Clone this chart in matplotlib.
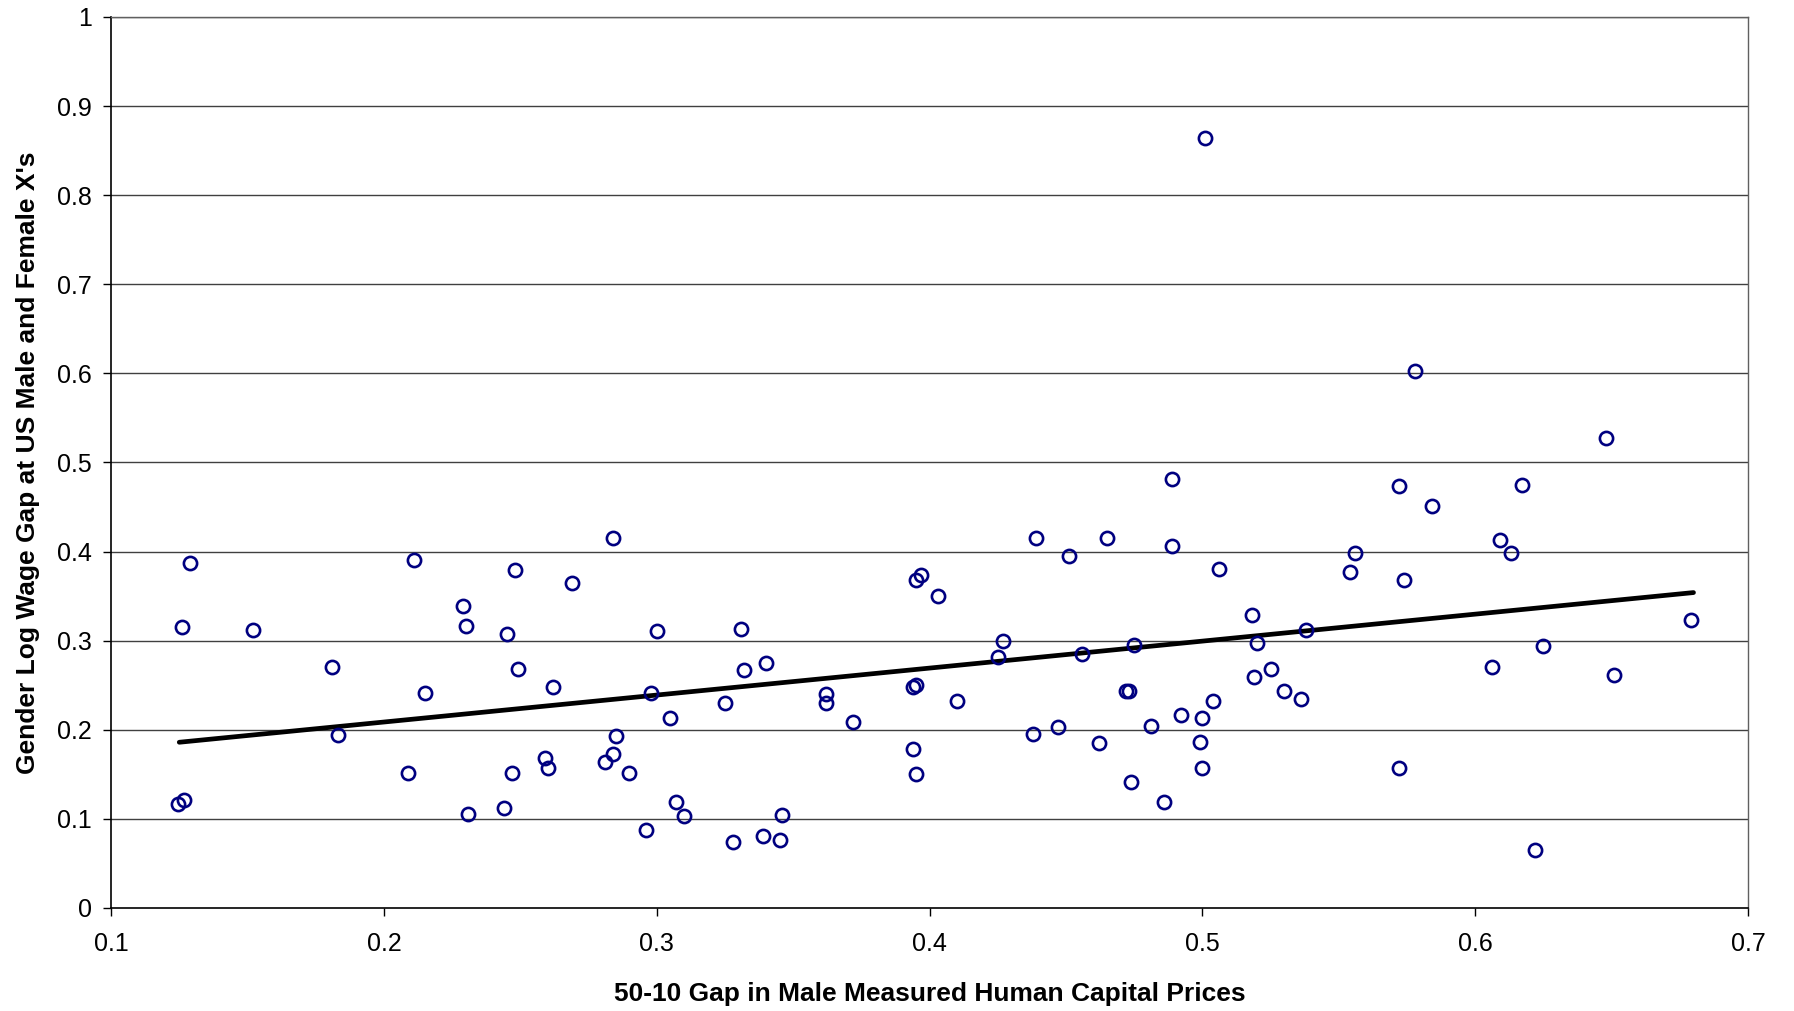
import matplotlib.pyplot as plt
import numpy as np

plt.rcParams['font.family'] = ['Liberation Sans', 'DejaVu Sans']

# scatter points
price_gap = [0.1247, 0.1268, 0.126, 0.129, 0.152, 0.181, 0.183, 0.209, 0.211, 0.215,
             0.229, 0.230, 0.231, 0.244, 0.245, 0.248, 0.247, 0.249, 0.259, 0.260,
             0.262, 0.269, 0.281, 0.284, 0.284, 0.285, 0.290, 0.296, 0.298, 0.300,
             0.305, 0.307, 0.310, 0.325, 0.328, 0.331, 0.332, 0.339, 0.340, 0.345,
             0.346, 0.362, 0.362, 0.372, 0.394, 0.395, 0.394, 0.395, 0.395, 0.397,
             0.403, 0.410, 0.425, 0.427, 0.438, 0.439, 0.447, 0.451, 0.456, 0.462,
             0.465, 0.472, 0.473, 0.474, 0.475, 0.481, 0.486, 0.489, 0.489, 0.492,
             0.499, 0.500, 0.500, 0.501, 0.504, 0.506, 0.518, 0.519, 0.520, 0.525,
             0.530, 0.536, 0.538, 0.554, 0.556, 0.572, 0.572, 0.574, 0.578, 0.584,
             0.606, 0.609, 0.613, 0.617, 0.622, 0.625, 0.648, 0.651, 0.679]
wage_gap = [0.117, 0.121, 0.315, 0.387, 0.312, 0.270, 0.194, 0.151, 0.390, 0.241,
            0.339, 0.316, 0.105, 0.112, 0.307, 0.379, 0.151, 0.268, 0.168, 0.157,
            0.248, 0.365, 0.164, 0.173, 0.415, 0.193, 0.151, 0.087, 0.241, 0.311,
            0.213, 0.119, 0.103, 0.230, 0.074, 0.313, 0.267, 0.081, 0.275, 0.076,
            0.104, 0.240, 0.230, 0.209, 0.248, 0.250, 0.178, 0.150, 0.368, 0.374,
            0.350, 0.232, 0.282, 0.300, 0.195, 0.415, 0.203, 0.395, 0.285, 0.185,
            0.415, 0.243, 0.243, 0.141, 0.295, 0.204, 0.119, 0.481, 0.406, 0.217,
            0.186, 0.157, 0.213, 0.864, 0.232, 0.380, 0.329, 0.259, 0.297, 0.268,
            0.243, 0.235, 0.312, 0.377, 0.398, 0.474, 0.157, 0.368, 0.603, 0.451,
            0.271, 0.413, 0.398, 0.475, 0.065, 0.294, 0.528, 0.262, 0.323]

# linear trend end points
trend_x = [0.125, 0.680]
trend_y = [0.186, 0.354]

fig = plt.figure(figsize=(17.94, 10.11), dpi=100)
ax = fig.add_axes([0.0619, 0.1019, 0.9125, 0.8813])

for v in np.arange(0.1, 1.01, 0.1):
    ax.axhline(v, color='#404040', lw=1.0, zorder=1)

ax.plot(trend_x, trend_y, color='black', lw=3.4, solid_capstyle='round', zorder=2)
ax.plot(price_gap, wage_gap, 'o', ms=9.5, mfc='none', mec='#000080', mew=1.9, zorder=3)

ax.set_xlim(0.1, 0.7)
ax.set_ylim(0, 1)
ax.set_xticks(np.arange(0.1, 0.71, 0.1))
ax.set_xticklabels(['0.1', '0.2', '0.3', '0.4', '0.5', '0.6', '0.7'])
ax.set_yticks(np.arange(0, 1.01, 0.1))
ax.set_yticklabels(['0', '0.1', '0.2', '0.3', '0.4', '0.5', '0.6', '0.7', '0.8', '0.9', '1'])
ax.tick_params(direction='out', length=6, width=1, labelsize=18)
ax.tick_params(axis='x', pad=11)
ax.tick_params(axis='y', pad=8)

for s in ['left', 'bottom']:
    ax.spines[s].set_color('black')
    ax.spines[s].set_linewidth(1.2)
for s in ['top', 'right']:
    ax.spines[s].set_color('#606060')
    ax.spines[s].set_linewidth(1.0)

ax.set_xlabel('50-10 Gap in Male Measured Human Capital Prices',
              fontsize=19, fontweight='bold', labelpad=19)
ax.set_ylabel("Gender Log Wage Gap at US Male and Female X's",
              fontsize=19, fontweight='bold', labelpad=12)

fig.savefig('out.png', dpi=100)
